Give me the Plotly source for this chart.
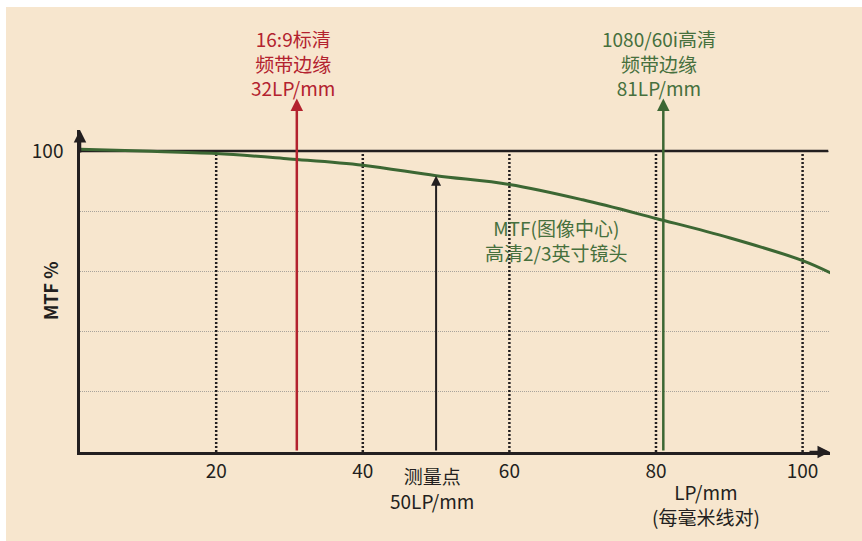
import plotly.graph_objects as go

# ---- data ----
lp = [1.4, 10, 20, 30, 40, 50, 60, 70, 80, 90, 100, 104]
mtf = [100.6, 100.0, 99.2, 97.4, 95.3, 91.8, 88.9, 83.8, 77.6, 71.2, 63.6, 59.3]

x_ticks = [20, 40, 60, 80, 100]
x_ticktext = ["20", "40", "60", "80", "100"]
y_ticks = [20, 40, 60, 80, 100]
y_ticktext = ["", "", "", "", "100"]

reference_level = 100          # solid 100 % line
sd_edge_lp = 31                # red marker (labelled 32LP/mm)
hd_edge_lp = 81                # green marker
measure_lp = 50                # black marker
measure_mtf = 91.8             # where the black arrow meets the curve
marker_top = 117.5             # height of the red / green arrows

sd_label = "16:9标清<br>频带边缘<br>32LP/mm"
hd_label = "1080/60i高清<br>频带边缘<br>81LP/mm"
curve_label = "MTF(图像中心)<br>高清2/3英寸镜头"
measure_label = "测量点<br>50LP/mm"
x_title = "LP/mm<br>(每毫米线对)"
y_title = "<b>MTF %</b>"

X_RANGE = [1.42, 103.74]
Y_RANGE = [0, 107]

BLACK = "#231F20"
RED = "#B3222E"
GREEN = "#3C6733"
GREEN_TXT = "#46703D"
BG = "#F7E6CE"
FONT = "Noto Sans CJK SC, sans-serif"

fig = go.Figure()

# vertical dotted gridlines (only up to the 100 line)
gx, gy = [], []
for v in x_ticks:
    gx += [v, v, None]
    gy += [0, reference_level, None]
fig.add_trace(go.Scatter(x=gx, y=gy, mode="lines",
                         line=dict(color=BLACK, width=2.5, dash="2px,2px"),
                         hoverinfo="skip", showlegend=False))

# solid 100 % line
fig.add_trace(go.Scatter(x=[X_RANGE[0], 103.5], y=[reference_level, reference_level],
                         mode="lines", line=dict(color=BLACK, width=2.5),
                         hoverinfo="skip", showlegend=False))

# MTF curve
fig.add_trace(go.Scatter(x=lp, y=mtf, mode="lines", line_shape="spline",
                         line=dict(color=GREEN, width=3), cliponaxis=False,
                         hoverinfo="skip", showlegend=False))


def arrow(x, y, ax, ay, color, width=2.5):
    fig.add_annotation(x=x, y=y, ax=ax, ay=ay, xref="x", yref="y",
                       axref="x", ayref="y", text="", showarrow=True,
                       arrowhead=2, arrowsize=1, arrowwidth=width,
                       arrowcolor=color)


# marker arrows
arrow(sd_edge_lp, marker_top, sd_edge_lp, 0, RED)
arrow(hd_edge_lp, marker_top, hd_edge_lp, 0, GREEN)
arrow(measure_lp, measure_mtf, measure_lp, 0, BLACK, 2)
# axis arrows
arrow(X_RANGE[1], 0, X_RANGE[1] - 3, 0, BLACK)
arrow(X_RANGE[0], Y_RANGE[1], X_RANGE[0], Y_RANGE[1] - 8, BLACK)


def label(text, x, y, color, size=19, xref="x", xshift=0, **kw):
    fig.add_annotation(text=text, x=x, y=y, xref=xref, yref="paper",
                       showarrow=False, xanchor="center", yanchor="middle",
                       xshift=xshift, align="center",
                       font=dict(family=FONT, size=size, color=color),
                       **kw)


label(sd_label, sd_edge_lp, 1.2081, RED, xshift=-4)
label(hd_label, hd_edge_lp, 1.2081, GREEN_TXT, xshift=-4)
label(curve_label, 66.4, 0.659, GREEN_TXT)
label(measure_label, measure_lp, -0.1112, BLACK, xshift=-4)
label(x_title, 86.8, -0.1609, BLACK)

fig.add_annotation(text=y_title, x=-0.04, y=0.5, xref="paper", yref="paper",
                   showarrow=False, textangle=-90, xanchor="center", yanchor="middle",
                   font=dict(family=FONT, size=18, color=BLACK))

fig.update_layout(
    width=862, height=541,
    margin=dict(l=80, r=32, t=130, b=89),
    paper_bgcolor=BG, plot_bgcolor=BG,
    font=dict(family=FONT, color=BLACK, size=19),
    showlegend=False,
    xaxis=dict(range=X_RANGE, showgrid=False, zeroline=False,
               showline=True, linecolor=BLACK, linewidth=2.5,
               tickvals=x_ticks, ticktext=x_ticktext, ticks="",
               tickfont=dict(size=19, color=BLACK)),
    yaxis=dict(range=Y_RANGE, showgrid=True, gridcolor="#A8A39C",
               gridwidth=1, griddash="1px,1px", zeroline=False,
               showline=True, linecolor=BLACK, linewidth=2.5,
               tickvals=y_ticks, ticktext=y_ticktext, ticks="",
               ticklabelstandoff=10,
               tickfont=dict(size=19, color=BLACK)),
    shapes=[
        dict(type="rect", xref="paper", yref="paper", x0=-0.2, x1=(6 - 80) / 750,
             y0=-0.5, y1=1.6, fillcolor="white", line=dict(width=0), layer="above"),
        dict(type="rect", xref="paper", yref="paper", x0=-0.2, x1=1.2,
             y0=(452 - 7) / 322, y1=1.6, fillcolor="white", line=dict(width=0),
             layer="above"),
    ],
)

fig.write_html("out.html", config={"displayModeBar": False},
               post_script="document.body.style.margin='0';document.body.style.padding='0';")
